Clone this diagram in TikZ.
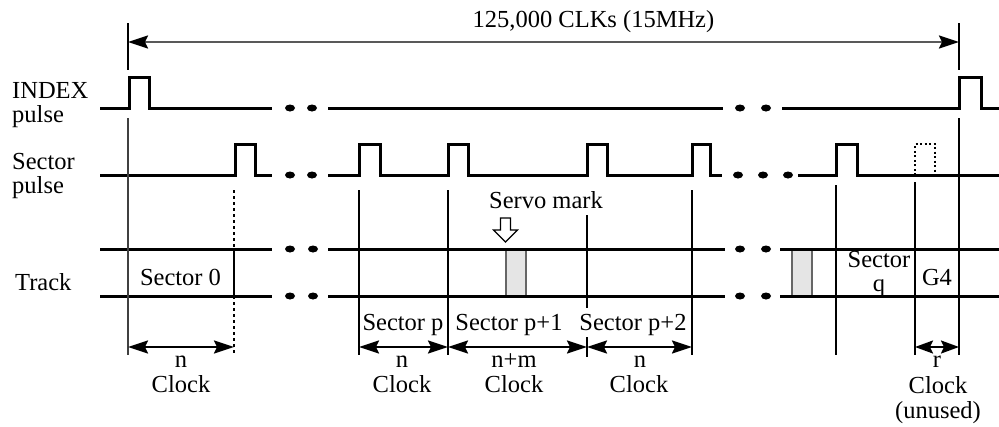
\documentclass[tikz,border=0pt]{standalone}
\usepackage{fontspec}
\setmainfont{Liberation Serif}
\usetikzlibrary{arrows.meta}
\begin{document}
\begin{tikzpicture}[x=1pt,y=-1pt,
  sig/.style={line width=3pt, line join=miter},
  guide/.style={line width=1.8pt},
  tip/.tip={Stealth[length=20pt,width=13pt,inset=3pt,color=black]},
  smalltip/.tip={Stealth[length=18pt,width=13pt,inset=3pt,color=black]},
  dimarr/.style={line width=2pt, tip-tip},
  lbl/.style={font=\fontsize{24.5}{26}\selectfont, inner sep=0pt, anchor=base},
  lbll/.style={lbl, anchor=base west},
  ddot/.style={fill=black},
  servo/.style={draw=black!60, line width=1.2pt, fill=black!10}
]
\useasboundingbox (0,0) rectangle (999,426);

% servo marks (under track lines)
\draw[servo] (506,249) rectangle (526,296);
\draw[servo] (792,249) rectangle (812,296);

% top span arrow
\draw[line width=2pt] (128,23) -- (128,70);
\draw[line width=2pt] (959,23) -- (959,70);
\coordinate (spanL) at (128,42);
\coordinate (spanR) at (959,42);
\draw[black!65, line width=2.2pt, tip-tip] (spanL) -- (spanR);
\node[lbl] (span) at (593.5,27) {125,000 CLKs (15MHz)};

% INDEX pulse line
\draw[sig] (100,108) -- (129,108) -- (129,77) -- (149,77) -- (149,108) -- (272,108);
\draw[sig] (328,108) -- (723,108);
\draw[sig] (782,108) -- (959,108) -- (959,77) -- (981,77) -- (981,108) -- (999,108);
\foreach \x in {290,312,740,766} \fill[ddot] (\x,108) ellipse [x radius=5pt, y radius=3.5pt];

% Sector pulse line
\draw[sig] (100,175) -- (235,175) -- (235,144) -- (255,144) -- (255,175) -- (272,175);
\draw[sig] (328,175) -- (359,175) -- (359,144) -- (380,144) -- (380,175)
  -- (448,175) -- (448,144) -- (468,144) -- (468,175)
  -- (587,175) -- (587,144) -- (607,144) -- (607,175)
  -- (692,175) -- (692,144) -- (710,144) -- (710,175) -- (722,175);
\draw[sig] (798,175) -- (836,175) -- (836,144) -- (857,144) -- (857,175) -- (999,175);
\draw[line width=2.2pt, dash pattern=on 2pt off 2.5pt] (915,175) -- (915,144) -- (935,144) -- (935,175);
\foreach \x in {290,312,738,763,788} \fill[ddot] (\x,175) ellipse [x radius=5pt, y radius=3.5pt];

% Track lines
\foreach \y in {249,296} {
  \draw[sig] (100,\y) -- (272,\y);
  \draw[sig] (328,\y) -- (725,\y);
  \draw[sig] (780,\y) -- (999,\y);
  \foreach \x in {290,313,740,766} \fill[ddot] (\x,\y) ellipse [x radius=5pt, y radius=3.5pt];
}

% vertical guide lines
\draw[guide, black!75, line width=1.5pt] (128,118) -- (128,355);
\draw[guide, dash pattern=on 3pt off 3pt] (234,190) -- (234,249);
\draw[guide, line width=2.2pt] (234,249) -- (234,296);
\draw[guide, dash pattern=on 3pt off 3pt] (234,296) -- (234,355);
\draw[guide] (359,190) -- (359,355);
\draw[guide] (448,190) -- (448,355);
\draw[guide] (587,215) -- (587,308);
\draw[guide] (587,337) -- (587,357);
\draw[guide] (692,190) -- (692,355);
\draw[guide] (836,185) -- (836,355);
\draw[guide] (915,182) -- (915,355);
\draw[guide] (959,118) -- (959,355);

% servo mark pointer
\draw[line width=1.2pt, fill=white] (500.5,218) -- (510.5,218) -- (510.5,230) -- (517.5,230)
  -- (505.5,242) -- (493.5,230) -- (500.5,230) -- cycle;
\node[lbl] (servo) at (546,208) {Servo mark};

% dimension arrows
\coordinate (d0a) at (128,347); \coordinate (d0b) at (234,347);
\coordinate (d1a) at (359,347); \coordinate (d1b) at (448,347);
\coordinate (d2a) at (448,347); \coordinate (d2b) at (587,347);
\coordinate (d3a) at (587,347); \coordinate (d3b) at (692,347);
\coordinate (d4a) at (915,347); \coordinate (d4b) at (959,347);
\draw[dimarr] (d0a) -- (d0b);
\draw[dimarr] (d1a) -- (d1b);
\draw[dimarr] (d2a) -- (d2b);
\draw[dimarr] (d3a) -- (d3b);
\draw[line width=2pt, smalltip-smalltip] (d4a) -- (d4b);

% row labels
\node[lbll] (l1) at (12,98) {INDEX};
\node[lbll] (l2) at (12,122) {pulse};
\node[lbll] (l3) at (12,169) {Sector};
\node[lbll] (l4) at (12,193) {pulse};
\node[lbll] (l5) at (15,290) {Track};

% sector labels
\node[lbl] (s0) at (180.5,285) {Sector 0};
\node[lbl] (sp) at (403,330) {Sector p};
\node[lbl] (sp1) at (509,330) {Sector p+1};
\node[lbl] (sp2) at (633,330) {Sector p+2};
\node[lbl] (sq1) at (879,267) {Sector};
\node[lbl] (sq2) at (879,291) {q};
\node[lbl] (g4) at (937,285) {G4};

% clock labels
\node[lbl] (n0) at (181,367) {n};
\node[lbl] (c0) at (181,392) {Clock};
\node[lbl] (n1) at (402,367) {n};
\node[lbl] (c1) at (402,392) {Clock};
\node[lbl] (n2) at (514,367) {n+m};
\node[lbl] (c2) at (514,392) {Clock};
\node[lbl] (n3) at (640,367) {n};
\node[lbl] (c3) at (639,392) {Clock};
\node[lbl] (n4) at (937,367) {r};
\node[lbl] (c4) at (938,393) {Clock};
\node[lbl] (u4) at (938,418) {(unused)};
\end{tikzpicture}
\end{document}
